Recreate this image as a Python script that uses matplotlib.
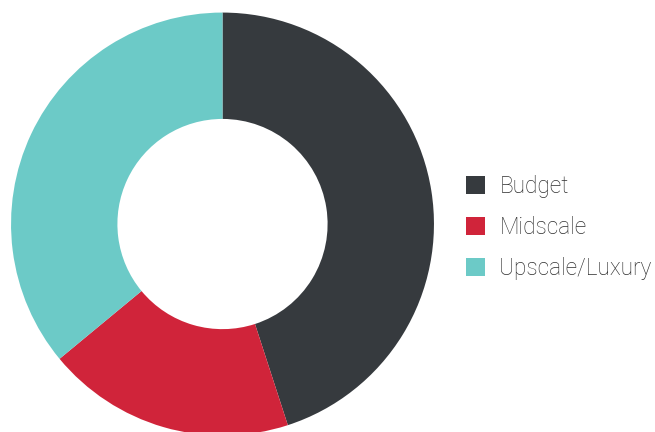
import matplotlib
matplotlib.use('Agg')
from matplotlib import pyplot as plt

labels = ['Budget', 'Midscale', 'Upscale/Luxury']
shares = [45, 19, 36]
colors = ['#363a3e', '#d0243a', '#6ccac7']

fig = plt.figure(figsize=(6.55, 4.32), dpi=100)
ax = fig.add_axes([0.0168, -0.0081, 0.6458, 0.979])

wedges, _ = ax.pie(shares, colors=colors, startangle=90, counterclock=False,
                   radius=1, wedgeprops=dict(width=0.503, linewidth=0))
ax.set_xlim(-1, 1)
ax.set_ylim(-1, 1)
ax.set_aspect('equal')
ax.axis('off')

fig.legend(wedges, labels, loc='center left', bbox_to_anchor=(0.691, 0.474),
           frameon=False, prop={'family': 'Roboto', 'size': 16.3, 'weight': 'light'},
           labelcolor='#2e2e2e', handlelength=0.82, handleheight=0.82,
           handletextpad=0.65, labelspacing=0.8, borderaxespad=0.2)

fig.savefig('out.png', dpi=100)
